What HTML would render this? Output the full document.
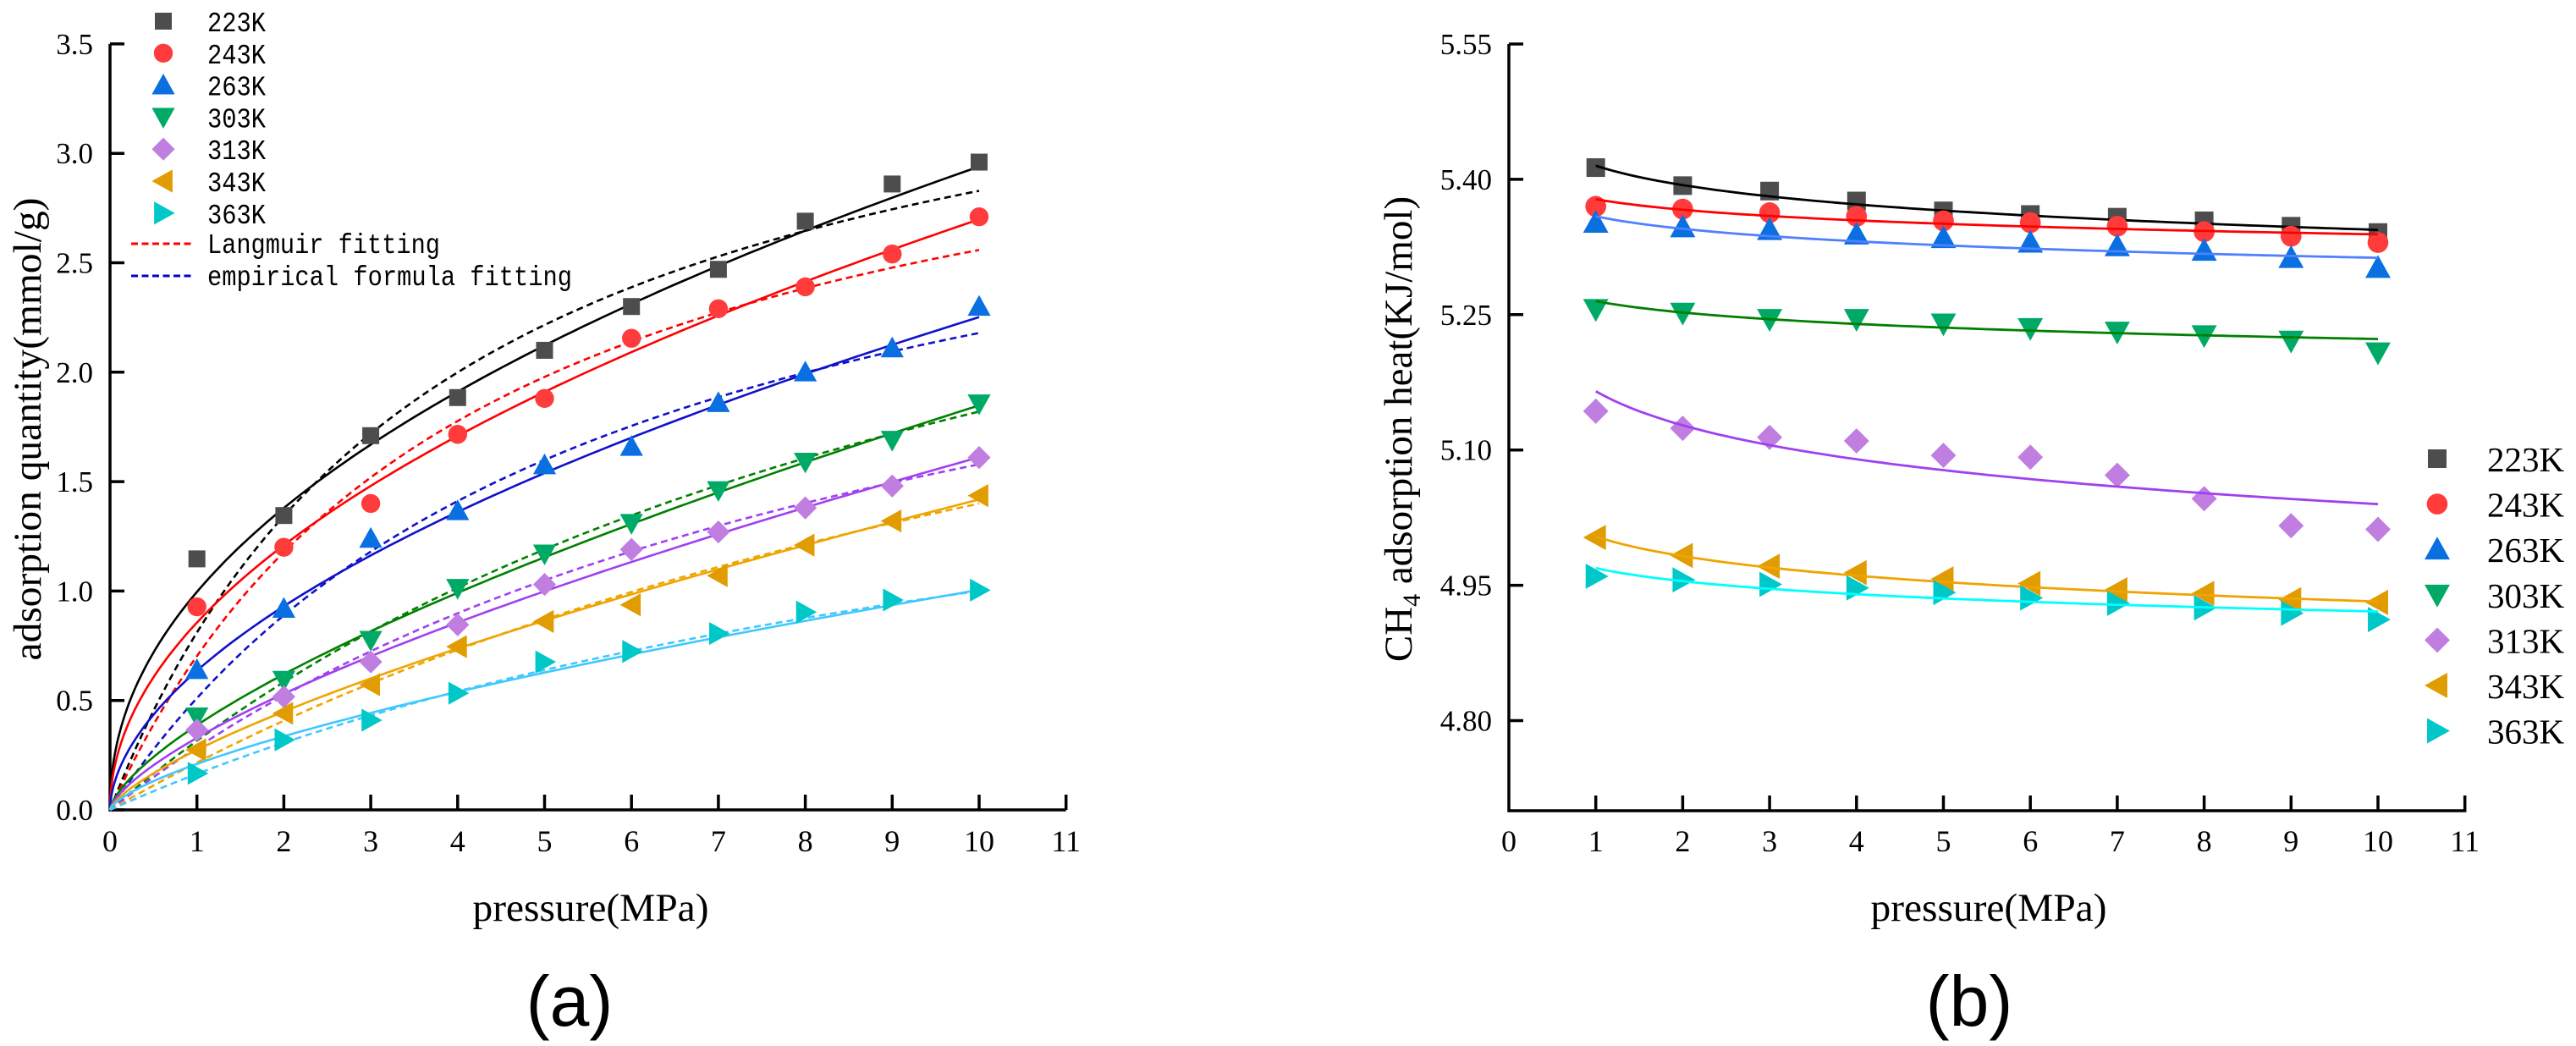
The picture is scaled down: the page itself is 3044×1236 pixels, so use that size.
<!DOCTYPE html>
<html><head><meta charset="utf-8"><style>
html,body{margin:0;padding:0;background:#fff;}
svg{display:block;}
</style></head><body>
<svg id="root" width="3044" height="1236" viewBox="0 0 3044 1236" xmlns="http://www.w3.org/2000/svg">
<g id="chartA"></g>
<g id="chartB"></g>
<text x="673" y="1212" font-family="Liberation Sans, sans-serif" font-size="84" text-anchor="middle">(a)</text>
<text x="2327" y="1212" font-family="Liberation Sans, sans-serif" font-size="84" text-anchor="middle">(b)</text>
</svg>
<script>
// ---------- data ----------
const series = ["223K","243K","263K","303K","313K","343K","363K"];
const pressures = [1,2,3,4,5,6,7,8,9,10];
const xTicks = [0,1,2,3,4,5,6,7,8,9,10,11];
const aYTicks = [0.0,0.5,1.0,1.5,2.0,2.5,3.0,3.5];
const bYTicks = [4.80,4.95,5.10,5.25,5.40,5.55];
const q223 = [1.147,1.345,1.71,1.884,2.10,2.30,2.47,2.69,2.86,2.96];
const q243 = [0.928,1.20,1.40,1.716,1.88,2.155,2.29,2.39,2.54,2.71];
const q263 = [0.64,0.92,1.24,1.366,1.576,1.66,1.86,2.0,2.11,2.30];
const q303 = [0.426,0.593,0.776,1.013,1.17,1.31,1.46,1.59,1.69,1.856];
const q313 = [0.365,0.517,0.676,0.846,1.03,1.19,1.27,1.38,1.48,1.61];
const q343 = [0.274,0.441,0.572,0.746,0.861,0.937,1.07,1.21,1.32,1.436];
const q363 = [0.167,0.32,0.41,0.533,0.676,0.724,0.806,0.904,0.959,1.004];
// empirical (power-law) fit params q = k p^n
const empK = [0.996,0.856,0.636,0.387,0.329,0.274,0.21];
const empN = [0.47,0.4986,0.549,0.679,0.69,0.714,0.68];
// Langmuir fit params q = qm b p/(1+bp)
const langQm = [3.91,3.62,3.42,3.865,3.19,3.58,2.3];
const langB = [0.2616,0.241,0.1756,0.089,0.098,0.0642,0.077];
// adsorption heat data
const h223 = [5.413,5.393,5.387,5.376,5.365,5.361,5.358,5.354,5.348,5.341];
const h243 = [5.370,5.367,5.363,5.359,5.354,5.352,5.348,5.342,5.337,5.330];
const h263 = [5.352,5.347,5.344,5.339,5.335,5.330,5.326,5.321,5.313,5.302];
const h303 = [5.256,5.252,5.245,5.245,5.240,5.235,5.231,5.227,5.221,5.208];
const h313 = [5.143,5.124,5.114,5.110,5.094,5.092,5.072,5.046,5.016,5.012];
const h343 = [5.003,4.983,4.971,4.964,4.957,4.952,4.945,4.941,4.934,4.931];
const h363 = [4.960,4.956,4.951,4.947,4.942,4.936,4.930,4.925,4.919,4.912];
// heat fit: value at p=1 and p=10 (log curve)
const heatFit1 = [5.415,5.378,5.359,5.265,5.165,5.004,4.969];
const heatFit10 = [5.344,5.339,5.313,5.223,5.040,4.932,4.921];

const qData=[q223,q243,q263,q303,q313,q343,q363];
const hData=[h223,h243,h263,h303,h313,h343,h363];
const markerColors=["#4d4d4d","#ff3b3b","#0a6fe0","#00aa66","#c07ee0","#e09c00","#00c8c8"];
const lineColorsA=["#000000","#ff0000","#1010cc","#008000","#a040f0","#f0a400","#40c8ff"];
const lineColorsB=["#000000","#ff0000","#5080ff","#008000","#a040f0","#f0a400","#00ffff"];
const shapes=["square","circle","up","down","diamond","left","right"];
const NS="http://www.w3.org/2000/svg";
function mk(tag,attrs,parent){const e=document.createElementNS(NS,tag);for(const k in attrs)e.setAttribute(k,attrs[k]);parent.appendChild(e);return e;}
function marker(parent,shape,cx,cy,color,s){
  let e;
  if(shape==="square") e=mk("rect",{x:cx-s*0.5,y:cy-s*0.5,width:s,height:s,fill:color},parent);
  else if(shape==="circle") e=mk("circle",{cx:cx,cy:cy,r:s*0.56,fill:color},parent);
  else {
    const r=s*0.68;let pts;
    if(shape==="up") pts=[[cx,cy-r],[cx+r,cy+r*0.8],[cx-r,cy+r*0.8]];
    else if(shape==="down") pts=[[cx,cy+r],[cx+r,cy-r*0.8],[cx-r,cy-r*0.8]];
    else if(shape==="left") pts=[[cx-r,cy],[cx+r*0.8,cy-r],[cx+r*0.8,cy+r]];
    else if(shape==="right") pts=[[cx+r,cy],[cx-r*0.8,cy-r],[cx-r*0.8,cy+r]];
    else pts=[[cx,cy-r],[cx+r,cy],[cx,cy+r],[cx-r,cy]];
    e=mk("polygon",{points:pts.map(p=>p.join(",")).join(" "),fill:color},parent);
  }
  return e;
}

// ---------- Chart A ----------
(function(){
  const g=document.getElementById("chartA");
  const x0=130,xPer=102.7,y0=957,yPer=258.6;
  const X=p=>x0+p*xPer, Y=v=>y0-v*yPer;
  const axis=mk("path",{d:`M${X(0)} ${Y(3.5)} L${X(0)} ${y0} L${X(11)} ${y0}`,fill:"none",stroke:"#000","stroke-width":3.5},g);
  
  
  aYTicks.forEach(v=>{
    const t=mk("line",{x1:X(0),x2:X(0)+17,y1:Y(v),y2:Y(v),stroke:"#000","stroke-width":3.5},g);
    
    
    const l=mk("text",{x:110,y:Y(v)+12,"font-family":"Liberation Serif, serif","font-size":35,"text-anchor":"end"},g);
    l.textContent=v.toFixed(1);
    
    
  });
  xTicks.forEach(p=>{
    if(p>0){const t=mk("line",{x1:X(p),x2:X(p),y1:y0,y2:y0-18,stroke:"#000","stroke-width":3.5},g);
    
    }
    const l=mk("text",{x:X(p),y:1006,"font-family":"Liberation Serif, serif","font-size":36,"text-anchor":"middle"},g);
    l.textContent=String(p);
    
    
  });
  const xt=mk("text",{x:698,y:1088,"font-family":"Liberation Serif, serif","font-size":47,"text-anchor":"middle",textLength:279,lengthAdjust:"spacingAndGlyphs"},g);
  xt.textContent="pressure(MPa)";
  
  
  const yt=mk("text",{x:0,y:0,transform:"translate(48,507) rotate(-90)","font-family":"Liberation Serif, serif","font-size":47,"text-anchor":"middle",textLength:547,lengthAdjust:"spacingAndGlyphs"},g);
  yt.textContent="adsorption quantity(mmol/g)";
  
  
  const N=120;
  series.forEach((s,i)=>{
    const sg=mk("g",{},g);
    
    
    let d1="",d2="";
    for(let j=0;j<=N;j++){
      const p=10*Math.pow(j/N,1.6);
      const e=empK[i]*Math.pow(p,empN[i]);
      const l=langQm[i]*langB[i]*p/(1+langB[i]*p);
      d1+=(j?"L":"M")+X(p).toFixed(1)+" "+Y(e).toFixed(1);
      d2+=(j?"L":"M")+X(p).toFixed(1)+" "+Y(l).toFixed(1);
    }
    const ld=mk("path",{d:d2,fill:"none",stroke:lineColorsA[i],"stroke-width":2.6,"stroke-dasharray":"8 5"},sg);
    
    
    const le=mk("path",{d:d1,fill:"none",stroke:lineColorsA[i],"stroke-width":2.6},sg);
    
    
    qData[i].forEach((v,j)=>{
      const m=marker(sg,shapes[i],X(pressures[j]),Y(v),markerColors[i],20);
      
      
    });
  });
  // legend
  const lg=mk("g",{},g);
  
  
  series.forEach((s,i)=>{
    const cy=25+i*37.8;
    const m=marker(lg,shapes[i],193,cy,markerColors[i],20);
    
    
    const t=mk("text",{x:245,y:cy+12,"font-family":"Liberation Mono, monospace","font-size":33,textLength:69,lengthAdjust:"spacingAndGlyphs"},lg);
    t.textContent=s;
    
    
  });
  [["Langmuir fitting","#ff0000",288,275],["empirical formula fitting","#0000cc",326,431]].forEach(r=>{
    const ln=mk("line",{x1:155,x2:228,y1:r[2],y2:r[2],stroke:r[1],"stroke-width":3,"stroke-dasharray":"8 4.5"},lg);
    
    
    const t=mk("text",{x:245,y:r[2]+11,"font-family":"Liberation Mono, monospace","font-size":33,textLength:r[3],lengthAdjust:"spacingAndGlyphs"},lg);
    t.textContent=r[0];
    
    
  });
})();

// ---------- Chart B ----------
(function(){
  const g=document.getElementById("chartB");
  const x0=1783,xPer=102.7,yTop=52,vTop=5.55,yPer=159.9/0.15,yBot=958;
  const X=p=>x0+p*xPer, Y=v=>yTop+(vTop-v)*yPer;
  const axis=mk("path",{d:`M${X(0)} ${yTop} L${X(0)} ${yBot} L${X(11)} ${yBot} L${X(11)} ${yBot-18}`,fill:"none",stroke:"#000","stroke-width":3.5},g);
  
  
  bYTicks.forEach(v=>{
    const t=mk("line",{x1:X(0),x2:X(0)+17,y1:Y(v),y2:Y(v),stroke:"#000","stroke-width":3.5},g);
    
    
    const l=mk("text",{x:1763,y:Y(v)+12,"font-family":"Liberation Serif, serif","font-size":35,"text-anchor":"end"},g);
    l.textContent=v.toFixed(2);
    
    
  });
  xTicks.forEach(p=>{
    if(p>0&&p<11){const t=mk("line",{x1:X(p),x2:X(p),y1:yBot,y2:yBot-18,stroke:"#000","stroke-width":3.5},g);
    
    }
    const l=mk("text",{x:X(p),y:1006,"font-family":"Liberation Serif, serif","font-size":36,"text-anchor":"middle"},g);
    l.textContent=String(p);
    
    
  });
  const xt=mk("text",{x:2350,y:1088,"font-family":"Liberation Serif, serif","font-size":47,"text-anchor":"middle",textLength:279,lengthAdjust:"spacingAndGlyphs"},g);
  xt.textContent="pressure(MPa)";
  
  
  const yt=mk("text",{x:0,y:0,transform:"translate(1668,507) rotate(-90)","font-family":"Liberation Serif, serif","font-size":47,"text-anchor":"middle"},g);
  yt.innerHTML='CH<tspan font-size="30" dy="10">4</tspan><tspan dy="-10"> adsorption heat(KJ/mol)</tspan>';
  
  
  series.forEach((s,i)=>{
    const sg=mk("g",{},g);
    
    
    let d="";
    const c=(heatFit10[i]-heatFit1[i])/Math.log(10);
    for(let j=0;j<=90;j++){
      const p=1+j*0.1;
      const v=heatFit1[i]+c*Math.log(p);
      d+=(j?"L":"M")+X(p).toFixed(1)+" "+Y(v).toFixed(1);
    }
    hData[i].forEach((v,j)=>{
      const m=marker(sg,shapes[i],X(pressures[j]),Y(v),markerColors[i],22);
      
      
    });
    const ln=mk("path",{d:d,fill:"none",stroke:lineColorsB[i],"stroke-width":2.8},sg);
    
    
  });
  const lg=mk("g",{},g);
  
  
  series.forEach((s,i)=>{
    const cy=542+i*53.6;
    const m=marker(lg,shapes[i],2880,cy,markerColors[i],22);
    
    
    const t=mk("text",{x:2939,y:cy+15,"font-family":"Liberation Serif, serif","font-size":41},lg);
    t.textContent=s;
    
    
  });
})();
</script>
</body></html>
